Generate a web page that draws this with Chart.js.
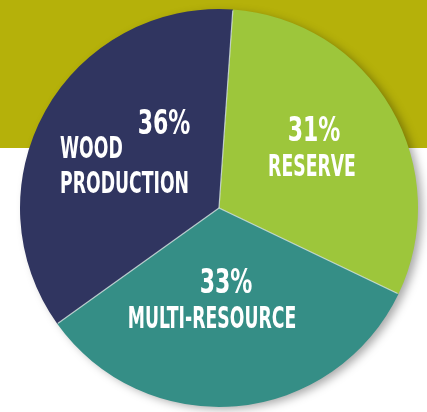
<!DOCTYPE html>
<html>
<head>
<meta charset="utf-8">
<script src="https://cdn.jsdelivr.net/npm/chart.js@4.4.1/dist/chart.umd.min.js"></script>
<style>
  html, body { margin: 0; padding: 0; background: #ffffff; }
  #wrap { width: 427px; height: 412px; position: relative; }
</style>
</head>
<body>
<div id="wrap"><canvas id="c" width="427" height="412"></canvas></div>
<script>
const categories = ["RESERVE", "MULTI-RESOURCE", "WOOD PRODUCTION"];
const labelLines = [["RESERVE"], ["MULTI-RESOURCE"], ["WOOD", "PRODUCTION"]];
const shares = [31, 33, 36];
const sliceColors = ["#9dc63b", "#358e86", "#303560"];

// label placement relative to pie center (style only)
const labelStyle = [
  { pct: [95, -76], lines: [[93, -40]], align: "center" },
  { pct: [7, 76], lines: [[-7, 112]], align: "center" },
  { pct: [-55, -83], lines: [[-159, -58], [-159, -23]], align: "left" }
];

const bgPlugin = {
  id: "bg",
  beforeDraw(chart) {
    const ctx = chart.ctx;
    ctx.save();
    ctx.fillStyle = "#ffffff";
    ctx.fillRect(0, 0, chart.width, chart.height);
    ctx.fillStyle = "#b5b10a";
    ctx.fillRect(0, 0, chart.width, 148);
    ctx.restore();
  },
  beforeDatasetsDraw(chart) {
    const arc = chart.getDatasetMeta(0).data[0];
    if (!arc) return;
    const ctx = chart.ctx;
    ctx.save();
    ctx.shadowColor = "rgba(0,0,0,0.35)";
    ctx.shadowBlur = 10;
    ctx.shadowOffsetX = 5;
    ctx.shadowOffsetY = 3;
    ctx.fillStyle = "#303560";
    ctx.beginPath();
    ctx.arc(arc.x, arc.y, arc.outerRadius - 1, 0, Math.PI * 2);
    ctx.fill();
    ctx.restore();
  }
};

function drawText(ctx, text, x, y, size, sx, align) {
  ctx.save();
  ctx.font = "bold " + size + "px 'DejaVu Sans Condensed', 'DejaVu Sans', sans-serif";
  ctx.textBaseline = "middle";
  const w = ctx.measureText(text).width * sx;
  ctx.translate(align === "left" ? x : x - w / 2, y);
  ctx.scale(sx, 1);
  ctx.textAlign = "left";
  ctx.fillStyle = "#ffffff";
  ctx.fillText(text, 0, 0);
  ctx.restore();
}

const labelPlugin = {
  id: "labels",
  afterDatasetsDraw(chart) {
    const arcs = chart.getDatasetMeta(0).data;
    const cx = arcs[0].x, cy = arcs[0].y;
    const ctx = chart.ctx;
    // thin light separators between slices only
    ctx.save();
    ctx.strokeStyle = "rgba(220,235,230,0.8)";
    ctx.lineWidth = 1.2;
    arcs.forEach(a => {
      ctx.beginPath();
      ctx.moveTo(cx, cy);
      ctx.lineTo(cx + Math.cos(a.startAngle) * (a.outerRadius - 1), cy + Math.sin(a.startAngle) * (a.outerRadius - 1));
      ctx.stroke();
    });
    ctx.restore();
    shares.forEach((v, i) => {
      const st = labelStyle[i];
      drawText(ctx, v + "%", cx + st.pct[0], cy + st.pct[1], 34, 0.72, "center");
      labelLines[i].forEach((ln, j) => {
        const p = st.lines[j];
        drawText(ctx, ln, cx + p[0], cy + p[1], 30, 0.64, st.align);
      });
    });
  }
};

new Chart(document.getElementById("c"), {
  type: "pie",
  data: {
    labels: categories,
    datasets: [{
      data: shares,
      backgroundColor: sliceColors,
      borderWidth: 0
    }]
  },
  options: {
    responsive: false,
    animation: false,
    rotation: 4,
    layout: { padding: { left: 20, right: 9, top: 9, bottom: 5 } },
    plugins: { legend: { display: false }, tooltip: { enabled: false } }
  },
  plugins: [bgPlugin, labelPlugin]
});
</script>
</body>
</html>
